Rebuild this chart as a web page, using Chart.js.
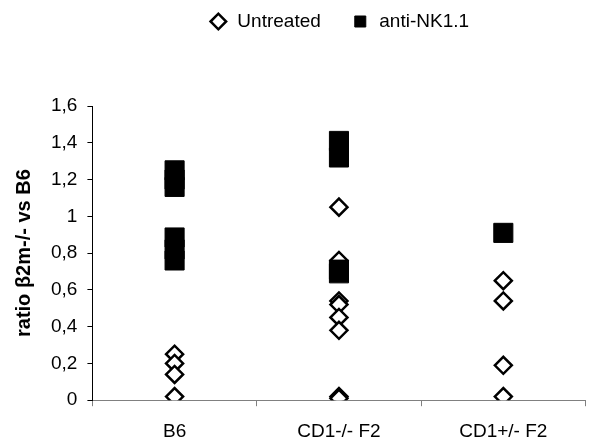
<!DOCTYPE html>
<html>
<head>
<meta charset="utf-8">
<script src="https://cdn.jsdelivr.net/npm/chart.js@4.4.0/dist/chart.umd.min.js"></script>
<style>
  html, body { margin: 0; padding: 0; background: #fff; overflow: hidden; }
  #ratioChart { display: block; }
</style>
</head>
<body>
<canvas id="ratioChart" width="600" height="444"></canvas>
<script>
// categories on the x axis
const categories = ['B6', 'CD1-/- F2', 'CD1+/- F2'];

// untreated mice (open diamonds)
const untreatedB6 = [0.25, 0.20, 0.14, 0.02];
const untreatedCD1ko = [1.05, 0.76, 0.54, 0.52, 0.45, 0.38, 0.02, 0.01];
const untreatedCD1het = [0.65, 0.54, 0.19, 0.02];

// anti-NK1.1 treated mice (filled squares)
const antiNKB6 = [1.25, 1.20, 1.16, 0.885, 0.82, 0.76];
const antiNKCD1ko = [1.41, 1.32, 0.71, 0.69];
const antiNKCD1het = [0.91];

// y axis tick labels (comma decimals)
const yTickLabels = ['0', '0,2', '0,4', '0,6', '0,8', '1', '1,2', '1,4', '1,6'];

const FONT = '"Liberation Sans", Arial, sans-serif';

const toPoints = (cat, values) => values.map(v => ({ x: cat, y: v }));

const untreated = [].concat(
  toPoints(categories[0], untreatedB6),
  toPoints(categories[1], untreatedCD1ko),
  toPoints(categories[2], untreatedCD1het)
);
const antiNK = [].concat(
  toPoints(categories[0], antiNKB6),
  toPoints(categories[1], antiNKCD1ko),
  toPoints(categories[2], antiNKCD1het)
);

// extra room under the legend
const legendGap = {
  id: 'legendGap',
  beforeInit(chart) {
    const fit = chart.legend.fit;
    chart.legend.fit = function () {
      fit.call(this);
      this.height += 65;
    };
  }
};

const ctx = document.getElementById('ratioChart').getContext('2d');
new Chart(ctx, {
  type: 'line',
  data: {
    labels: categories,
    datasets: [
      {
        label: 'anti-NK1.1',
        data: antiNK,
        showLine: false,
        pointStyle: 'rect',
        pointRadius: 13.5,
        pointHoverRadius: 13.5,
        backgroundColor: '#000',
        borderColor: '#000',
        borderWidth: 1,
      },
      {
        label: 'Untreated',
        data: untreated,
        showLine: false,
        pointStyle: 'rectRot',
        pointRadius: 8.5,
        pointHoverRadius: 8.5,
        backgroundColor: '#fff',
        borderColor: '#000',
        borderWidth: 2.5,
      },
    ],
  },
  options: {
    responsive: false,
    animation: false,
    layout: { padding: { top: -18, right: 4, left: 0, bottom: -13 } },
    plugins: {
      tooltip: { enabled: false },
      legend: {
        position: 'top',
        fullSize: false,
        reverse: true,
        labels: {
          usePointStyle: true,
          boxWidth: 19,
          boxHeight: 11,
          padding: 30,
          color: '#000',
          font: { family: FONT, size: 19 },
        },
      },
    },
    scales: {
      x: {
        type: 'category',
        offset: true,
        border: { color: '#808080', width: 1 },
        grid: {
          offset: true,
          drawOnChartArea: false,
          tickLength: 6,
          color: '#808080',
        },
        ticks: {
          color: '#000',
          padding: 14,
          font: { family: FONT, size: 19 },
        },
      },
      y: {
        min: 0,
        max: 1.6,
        border: { color: '#000', width: 1 },
        grid: {
          drawOnChartArea: false,
          tickLength: 5,
          color: '#000',
        },
        ticks: {
          stepSize: 0.2,
          color: '#000',
          padding: 10,
          font: { family: FONT, size: 19 },
          callback: (value, index) => yTickLabels[index],
        },
        title: {
          display: true,
          text: 'ratio β2m-/- vs B6',
          color: '#000',
          font: { family: FONT, size: 20, weight: 'bold' },
          padding: { top: 12, bottom: 5 },
        },
      },
    },
  },
  plugins: [legendGap],
});
</script>
</body>
</html>
